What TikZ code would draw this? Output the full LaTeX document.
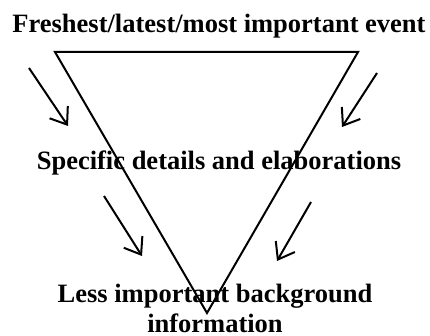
\documentclass[tikz,border=0pt]{standalone}
\usepackage{fontspec}
\setmainfont{Liberation Serif}
\usetikzlibrary{arrows.meta}
\begin{document}
\begin{tikzpicture}[x=1pt,y=-1pt,
  lbl/.style={font=\fontsize{26.5}{32}\selectfont\bfseries, inner sep=0pt, anchor=base},
  tri/.style={line width=2pt, line join=miter},
  flow/.style={line width=2pt, -{Straight Barb[length=15pt,width=22pt,line width=2pt]}}]
\useasboundingbox (0,0) rectangle (430,336);
\fill[white] (0,0) rectangle (430,336);
\coordinate (tl) at (55,52);
\coordinate (tr) at (358,52);
\coordinate (bt) at (207,313);
\draw[tri] (tl) -- (tr) -- (bt) -- cycle;
\coordinate (a1s) at (29,68);  \coordinate (a1e) at (68,126);
\coordinate (a2s) at (377,73); \coordinate (a2e) at (342,127);
\coordinate (a3s) at (104,196);\coordinate (a3e) at (142,256);
\coordinate (a4s) at (311,202);\coordinate (a4e) at (277,261);
\draw[flow] (a1s) -- (a1e);
\draw[flow] (a2s) -- (a2e);
\draw[flow] (a3s) -- (a3e);
\draw[flow] (a4s) -- (a4e);
\node[lbl] (t1) at (219,33) {Freshest/latest/most important event};
\node[lbl] (t2) at (219,170) {Specific details and elaborations};
\node[lbl] (t3) at (215,302) {Less important background};
\node[lbl] (t4) at (215,332) {information};
\end{tikzpicture}
\end{document}
